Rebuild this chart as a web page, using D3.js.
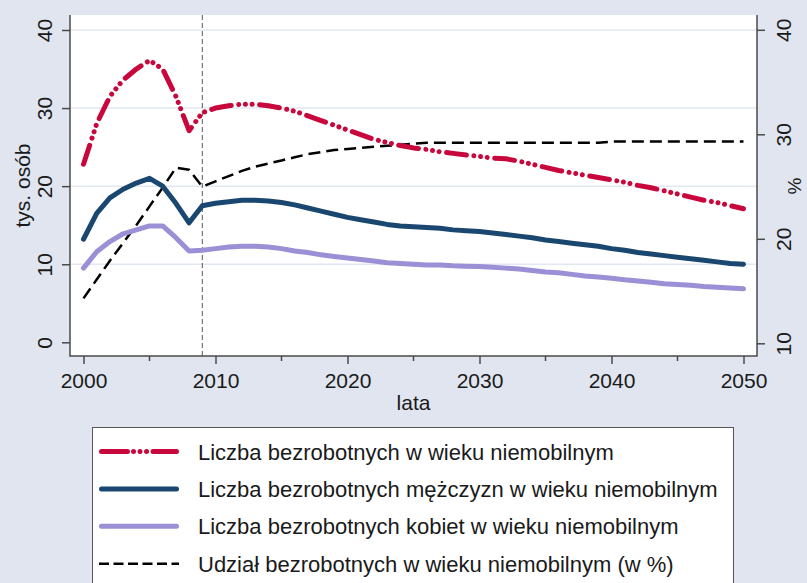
<!DOCTYPE html>
<html>
<head>
<meta charset="utf-8">
<script src="https://cdn.jsdelivr.net/npm/d3@7"></script>
<style>
  body { margin: 0; background: #e0e5ef; }
  text { font-family: "Liberation Sans", Arial, sans-serif; fill: #1a1a1a; }
</style>
</head>
<body>
<script>
var width = 807,
    height = 583;

// Data
var years = d3.range(2000, 2051);

var total = [22.8, 28.0, 31.5, 33.6, 35.0, 36.1, 35.0, 31.5, 27.1, 29.4,
             30.0, 30.3, 30.5, 30.5, 30.3, 30.0, 29.6, 29.0, 28.4, 27.8,
             27.2, 26.6, 26.0, 25.6, 25.2, 24.9, 24.7, 24.4, 24.2, 24.0,
             23.8, 23.6, 23.5, 23.2, 22.8, 22.4, 22.0, 21.7, 21.4, 21.1,
             20.8, 20.5, 20.1, 19.8, 19.4, 19.0, 18.6, 18.2, 17.9, 17.5, 17.1];

var men = [13.2, 16.5, 18.5, 19.6, 20.4, 21.0, 20.0, 17.8, 15.3, 17.5,
           17.8, 18.0, 18.2, 18.2, 18.1, 17.9, 17.6, 17.2, 16.8, 16.4,
           16.0, 15.7, 15.4, 15.1, 14.9, 14.8, 14.7, 14.6, 14.4, 14.3,
           14.2, 14.0, 13.8, 13.6, 13.4, 13.1, 12.9, 12.7, 12.5, 12.3,
           12.0, 11.8, 11.5, 11.3, 11.1, 10.9, 10.7, 10.5, 10.3, 10.1, 10.0];

var women = [9.5, 11.6, 12.9, 13.9, 14.4, 14.9, 14.9, 13.4, 11.7, 11.8,
             12.0, 12.2, 12.3, 12.3, 12.2, 12.0, 11.7, 11.5, 11.2, 11.0,
             10.8, 10.6, 10.4, 10.2, 10.1, 10.0, 9.9, 9.9, 9.8, 9.75,
             9.7, 9.6, 9.5, 9.4, 9.2, 9.0, 8.9, 8.7, 8.5, 8.35,
             8.2, 8.0, 7.85, 7.7, 7.5, 7.4, 7.3, 7.15, 7.05, 6.95, 6.85];

var share = [14.3, 16.1, 17.9, 19.6, 21.3, 23.1, 24.9, 26.8, 26.6, 25.0,
             25.5, 26.0, 26.5, 26.9, 27.2, 27.5, 27.8, 28.1, 28.3, 28.5,
             28.6, 28.7, 28.8, 28.9, 29.0, 29.1, 29.2, 29.2, 29.2, 29.2,
             29.2, 29.2, 29.2, 29.2, 29.2, 29.2, 29.2, 29.2, 29.2, 29.2,
             29.3, 29.3, 29.3, 29.3, 29.3, 29.3, 29.3, 29.3, 29.3, 29.3, 29.3];

var xTicks = [2000, 2010, 2020, 2030, 2040, 2050];
var xMinor = [2005, 2015, 2025, 2035, 2045];
var leftTicks = [0, 10, 20, 30, 40];
var rightTicks = [10, 20, 30, 40];

var legendLabels = [
  "Liczba bezrobotnych w wieku niemobilnym",
  "Liczba bezrobotnych mężczyzn w wieku niemobilnym",
  "Liczba bezrobotnych kobiet w wieku niemobilnym",
  "Udział bezrobotnych w wieku niemobilnym (w %)"
];

var red = "#c8083c", navy = "#1a476f", lavender = "#9b8fd6";

var plot = { left: 70, right: 757, top: 15, bottom: 356 };

var svg = d3.select("body").append("svg")
            .attr("width", width)
            .attr("height", height);

svg.append("rect")
   .attr("width", width).attr("height", height)
   .attr("fill", "#e0e5ef");

svg.append("rect")
   .attr("x", plot.left).attr("y", plot.top)
   .attr("width", plot.right - plot.left)
   .attr("height", plot.bottom - plot.top)
   .attr("fill", "white");

// Scales
var x = d3.scaleLinear().domain([2000, 2050]).range([83.5, 743.5]);
var yL = d3.scaleLinear().domain([0, 40]).range([342.3, 30]);
var yR = d3.scaleLinear().domain([10, 40]).range([343.3, 29.8]);

// Gridlines
svg.append("g")
   .selectAll("line")
   .data(leftTicks.filter(function(d) { return d > 0; }))
   .enter().append("line")
   .attr("x1", plot.left).attr("x2", plot.right)
   .attr("y1", yL).attr("y2", yL)
   .attr("stroke", "#e2e8f3")
   .attr("stroke-width", 1.5);

// Axes
var axisColor = "#4a4a4a";

var gx = svg.append("g")
   .attr("transform", "translate(0," + plot.bottom + ")")
   .call(d3.axisBottom(x).tickValues(xTicks).tickFormat(d3.format("d")).tickSize(8).tickSizeOuter(0));
gx.select(".domain").remove();
gx.selectAll(".tick line").attr("stroke", axisColor).attr("stroke-width", 1.5);
gx.selectAll(".tick text").attr("dy", null).attr("y", 32)
  .style("font-size", "21px").style("font-family", "Liberation Sans, Arial, sans-serif").attr("fill", "#1a1a1a");

svg.append("g")
   .selectAll("line")
   .data(xMinor)
   .enter().append("line")
   .attr("x1", x).attr("x2", x)
   .attr("y1", plot.bottom).attr("y2", plot.bottom + 5)
   .attr("stroke", axisColor).attr("stroke-width", 1.5);

var gl = svg.append("g")
   .attr("transform", "translate(" + plot.left + ",0)")
   .call(d3.axisLeft(yL).tickValues(leftTicks).tickSize(8).tickSizeOuter(0));
gl.select(".domain").remove();
gl.selectAll(".tick line").attr("stroke", axisColor).attr("stroke-width", 1.5);
gl.selectAll(".tick text")
  .attr("x", null).attr("dy", null)
  .attr("transform", "translate(-26,0) rotate(-90)")
  .attr("text-anchor", "middle")
  .attr("dominant-baseline", "central")
  .style("font-size", "21px").style("font-family", "Liberation Sans, Arial, sans-serif").attr("fill", "#1a1a1a");

var gr = svg.append("g")
   .attr("transform", "translate(" + plot.right + ",0)")
   .call(d3.axisRight(yR).tickValues(rightTicks).tickSize(8).tickSizeOuter(0));
gr.select(".domain").remove();
gr.selectAll(".tick line").attr("stroke", axisColor).attr("stroke-width", 1.5);
gr.selectAll(".tick text")
  .attr("x", null).attr("dy", null)
  .attr("transform", "translate(26,0) rotate(-90)")
  .attr("text-anchor", "middle")
  .attr("dominant-baseline", "central")
  .style("font-size", "21px").style("font-family", "Liberation Sans, Arial, sans-serif").attr("fill", "#1a1a1a");

// Axis lines
svg.append("path")
   .attr("d", "M" + plot.left + "," + plot.top + "V" + plot.bottom + "H" + plot.right + "V" + plot.top)
   .attr("fill", "none")
   .attr("stroke", axisColor)
   .attr("stroke-width", 1.5);

// Axis titles
svg.append("text")
   .attr("transform", "translate(22," + ((plot.top + plot.bottom) / 2) + ") rotate(-90)")
   .attr("text-anchor", "middle")
   .attr("dominant-baseline", "central")
   .style("font-size", "21px")
   .text("tys. osób");

svg.append("text")
   .attr("transform", "translate(801,186) rotate(-90)")
   .attr("text-anchor", "middle")
   .style("font-size", "19px")
   .text("%");

svg.append("text")
   .attr("x", (plot.left + plot.right) / 2)
   .attr("y", 410)
   .attr("text-anchor", "middle")
   .style("font-size", "21px")
   .text("lata");

// 2009 marker
svg.append("line")
   .attr("x1", x(2009)).attr("x2", x(2009))
   .attr("y1", plot.top).attr("y2", plot.bottom)
   .attr("stroke", "#555")
   .attr("stroke-width", 1)
   .attr("stroke-dasharray", "5,3");

// Lines
function lineFor(values, scale) {
  return d3.line()
    .x(function(d, i) { return x(years[i]); })
    .y(function(d) { return scale(d); })(values);
}

var series = [
  { values: share, scale: yR, color: "black", width: 2.5, dash: "12,6", cap: "butt" },
  { values: women, scale: yL, color: lavender, width: 5, dash: null, cap: "round" },
  { values: men, scale: yL, color: navy, width: 5, dash: null, cap: "round" },
  { values: total, scale: yL, color: red, width: 5, dash: "20,7.5,0.01,6.7,0.01,6.7,0.01,7.5", cap: "round" }
];

svg.append("g")
   .selectAll("path")
   .data(series)
   .enter().append("path")
   .attr("d", function(d) { return lineFor(d.values, d.scale); })
   .attr("fill", "none")
   .attr("stroke", function(d) { return d.color; })
   .attr("stroke-width", function(d) { return d.width; })
   .attr("stroke-linejoin", "round")
   .attr("stroke-linecap", function(d) { return d.cap; })
   .attr("stroke-dasharray", function(d) { return d.dash; });

// Legend
var legend = svg.append("g");

legend.append("rect")
   .attr("x", 92.5).attr("y", 427.5)
   .attr("width", 641).attr("height", 200)
   .attr("fill", "white")
   .attr("stroke", "#555")
   .attr("stroke-width", 1);

var legendItems = [
  { color: red, width: 5, dash: "26,6,0.01,6.5,0.01,6.5,0.01,6.5", cap: "round" },
  { color: navy, width: 5, dash: null, cap: "round" },
  { color: lavender, width: 5, dash: null, cap: "round" },
  { color: "black", width: 2.5, dash: "10,4.5", cap: "butt" }
];

var rows = legend.selectAll("g.row")
   .data(legendItems)
   .enter().append("g")
   .attr("class", "row")
   .attr("transform", function(d, i) { return "translate(0," + (451.5 + i * 37.4) + ")"; });

rows.append("line")
   .attr("x1", function(d) { return d.cap === "round" ? 101.5 : 99; })
   .attr("x2", function(d) { return d.cap === "round" ? 176.5 : 179; })
   .attr("stroke", function(d) { return d.color; })
   .attr("stroke-width", function(d) { return d.width; })
   .attr("stroke-linecap", function(d) { return d.cap; })
   .attr("stroke-dasharray", function(d) { return d.dash; });

rows.append("text")
   .attr("x", 198)
   .attr("y", 8)
   .style("font-size", "22px")
   .text(function(d, i) { return legendLabels[i]; });
</script>
</body>
</html>
